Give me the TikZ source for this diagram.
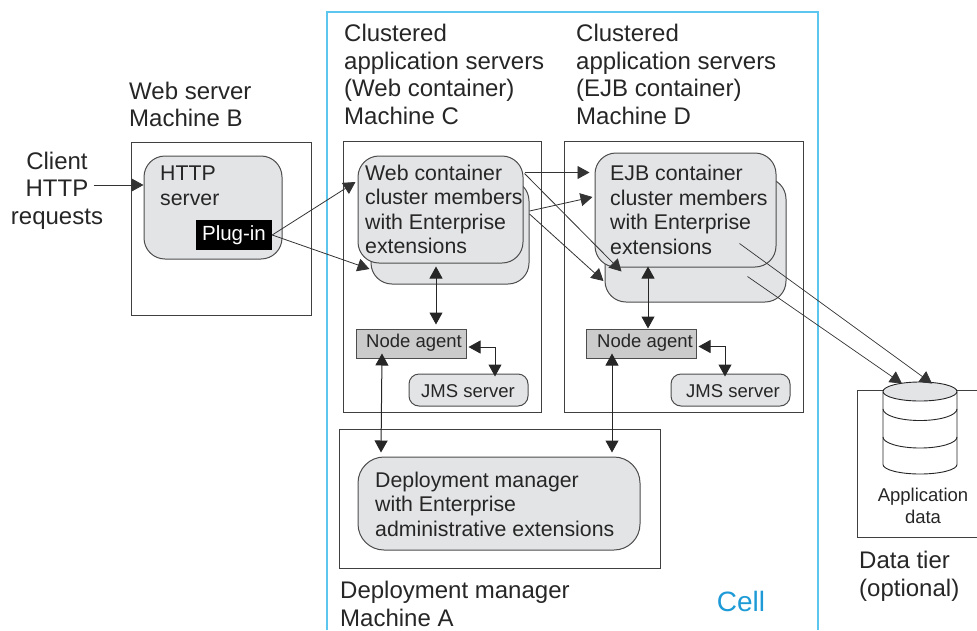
\documentclass[tikz,border=0pt]{standalone}
\usepackage{fontspec}
\setmainfont{Liberation Sans}
\usetikzlibrary{shapes.geometric,arrows.meta}
\definecolor{panelgray}{HTML}{E3E4E6}
\definecolor{agentgray}{HTML}{CBCBCC}
\definecolor{cellblue}{HTML}{5CC6EE}
\definecolor{celltext}{HTML}{1E9BD7}
\tikzset{
  machine/.style={draw=black!75, line width=1pt, inner sep=0pt},
  member/.style={draw=black!70, line width=1pt, fill=panelgray, rounded corners=21pt, inner sep=0pt},
  memberlabel/.style={inner sep=0pt, align=left, anchor=west, text=black!85, font=\fontsize{21.3}{24.5}\selectfont},
  agent/.style={draw=black!70, line width=1pt, fill=agentgray, inner sep=0pt},
  jms/.style={draw=black!70, line width=1pt, fill=panelgray, rounded corners=10pt, inner sep=0pt},
  smalllabel/.style={inner sep=0pt, align=left, anchor=west, text=black!85, font=\fontsize{18.5}{22}\selectfont},
  heading/.style={inner sep=0pt, align=left, anchor=west, text=black!85, font=\fontsize{24}{27.7}\selectfont},
  link/.style={-{Triangle[length=12pt,width=13pt]}, draw=black!80, line width=0.8pt},
  biglink/.style={{Triangle[length=12pt,width=13pt]}-{Triangle[length=12pt,width=13pt]}, draw=black!85, line width=1pt}
}
\begin{document}
\begin{tikzpicture}[x=1pt,y=-1pt]
\useasboundingbox (0,0) rectangle (977,630);
\draw[cellblue, line width=1.3pt] (327,630) -- (327,12) -- (818,12) -- (818,630);

\node[machine, minimum width=180, minimum height=173] (machineb) at (221,228.5) {};
\node[machine, minimum width=198, minimum height=271] (machinec) at (442,276.5) {};
\node[machine, minimum width=239, minimum height=271] (machined) at (683.5,276.5) {};
\node[machine, minimum width=321, minimum height=139] (machinea) at (499.5,498.5) {};

\draw[black!75, line width=1pt] (883,390) -- (857,390) -- (857,537) -- (977,537);
\draw[black!75, line width=1pt] (957,390) -- (977,390);

\node[member, minimum width=138, minimum height=103] (httpbox) at (213,207.5) {};
\node[memberlabel] (httplabel) at (160,186) {HTTP\\server};
\node[fill=black, text=white, inner sep=0pt, minimum width=76, minimum height=30, font=\fontsize{20.5}{24}\selectfont] (plugin) at (234,235) {Plug-in};

\node[member, minimum width=158, minimum height=104] (webback) at (450,232) {};
\node[member, minimum width=165, minimum height=107] (webfront) at (440.5,209.5) {};
\node[memberlabel] (weblabel) at (365,209.5) {Web container\\cluster members\\with Enterprise\\extensions};
\node[agent, minimum width=110, minimum height=29] (agentc) at (411,343.5) {};
\node[smalllabel] (agentclabel) at (366,343) {Node agent};
\node[jms, minimum width=119, minimum height=32] (jmsc) at (468.5,390) {};
\node[smalllabel] (jmsclabel) at (421,391) {JMS server};

\node[member, minimum width=181, minimum height=124] (ejbback) at (695.5,240) {};
\node[member, minimum width=181, minimum height=114] (ejbfront) at (685.5,210) {};
\node[memberlabel] (ejblabel) at (610,210) {EJB container\\cluster members\\with Enterprise\\extensions};
\node[agent, minimum width=110, minimum height=29] (agentd) at (641,343.5) {};
\node[smalllabel] (agentdlabel) at (597,343) {Node agent};
\node[jms, minimum width=119, minimum height=32] (jmsd) at (730.5,390) {};
\node[smalllabel] (jmsdlabel) at (686,391) {JMS server};

\node[member, minimum width=282, minimum height=93, rounded corners=26pt] (manager) at (499,503.5) {};
\node[memberlabel] (managerlabel) at (375,504) {Deployment manager\\with Enterprise\\administrative extensions};

\draw[black!85, fill=white, line width=0.9pt] (883,391.5) -- (883,464.5) arc[start angle=180, end angle=0, x radius=37, y radius=9.5] -- (957,391.5);
\draw[black!85, line width=0.9pt] (883,409) arc[start angle=180, end angle=0, x radius=37, y radius=11.5];
\draw[black!85, line width=0.9pt] (883,437) arc[start angle=180, end angle=0, x radius=37, y radius=11];
\node[ellipse, draw=black!85, fill=panelgray, line width=0.9pt, inner sep=0pt, minimum width=74, minimum height=19] (datatop) at (920,391.5) {};

\node[inner sep=0pt, align=center, text=black!85, font=\fontsize{18.5}{22}\selectfont] (appdata) at (923,506) {Application\\data};
\node[heading] (webtitle) at (129,104.5) {Web server\\Machine B};
\node[heading] (ctitle) at (344,74.5) {Clustered\\application servers\\(Web container)\\Machine C};
\node[heading] (dtitle) at (576,74.5) {Clustered\\application servers\\(EJB container)\\Machine D};
\node[heading] (atitle) at (340,604) {Deployment manager\\Machine A};
\node[heading] (tiertitle) at (859,576) {Data tier\\(optional)};
\node[inner sep=0pt, align=center, text=black!85, font=\fontsize{24}{27.7}\selectfont] (client) at (57,190.5) {Client\\HTTP\\requests};
\node[inner sep=0pt, text=celltext, font=\fontsize{28}{32}\selectfont] (celltitle) at (741,601) {Cell};

\draw[link] ([shift={(-9.5,-5.5)}]client.east) -- ([yshift=22.5pt]httpbox.west);
\draw[link] (plugin.east) -- ([shift={(-2,-27.5)}]webfront.west);
\draw[link] (plugin.east) -- ([shift={(-1,37)}]webback.west);
\draw[link] ([shift={(1,-37)}]webfront.east) -- ([shift={(-5,-37.5)}]ejbfront.west);
\draw[link] ([shift={(0,-21)}]webback.east) -- ([shift={(-2,-13)}]ejbfront.west);
\draw[link] ([shift={(1,-36)}]webfront.east) -- ([shift={(27,4)}]ejbfront.south west);
\draw[link] ([shift={(0,-18)}]webback.east) -- ([shift={(-1,41)}]ejbback.west);
\draw[biglink] ([shift={(-4.5,3)}]webfront.south) -- ([shift={(25,-4)}]agentc.north);
\draw[biglink] ([shift={(-37.5,-1)}]ejbfront.south) -- ([xshift=7pt]agentd.north);
\draw[biglink] ([shift={(2,3.5)}]agentc.east) -| ([shift={(26.5,3)}]jmsc.north);
\draw[biglink] ([shift={(2,3)}]agentd.east) -| ([shift={(-5.5,3)}]jmsd.north);
\draw[biglink] ([shift={(-29,-5)}]agentc.south) -- ([shift={(-118,-4)}]manager.north);
\draw[biglink] ([shift={(-29,-5)}]agentd.south) -- ([shift={(113,-4)}]manager.north);
\draw[link, line width=0.7pt] ([shift={(-37,-24)}]ejbfront.south east) -- ([shift={(12,2)}]datatop.north);
\draw[link, line width=0.7pt] ([shift={(-39,-26)}]ejbback.south east) -- ([shift={(-18,2)}]datatop.north);
\end{tikzpicture}
\end{document}
